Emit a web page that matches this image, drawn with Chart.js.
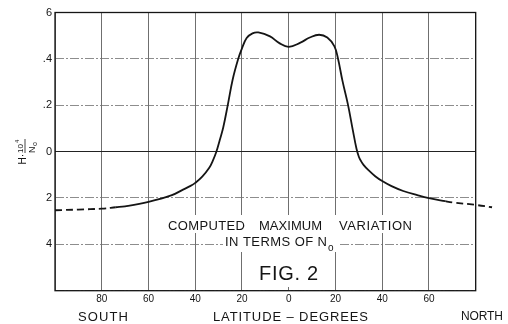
<!DOCTYPE html>
<html>
<head>
<meta charset="utf-8">
<script src="https://cdn.jsdelivr.net/npm/chart.js@4/dist/chart.umd.min.js"></script>
<style>
  html, body { margin: 0; padding: 0; background: #fff; }
  #wrap { width: 508px; height: 324px; }
</style>
</head>
<body>
<div id="wrap"><canvas id="myChart" width="508" height="324"></canvas></div>
<script>
// latitude in degrees (south negative)
const latitude = [-100, -90, -80, -74, -70, -60, -50, -45, -42, -40, -37, -34, -32.5, -31, -29.5, -28, -26, -24, -21.6, -20, -18, -15.5, -13, -8, -4,
  0, 5, 9, 13, 16.5, 19.5, 21, 23, 25.3, 27.4, 29, 30, 31, 32, 34, 37, 40, 44, 49, 55, 60, 67, 70, 80, 87];
const variation = [-0.253, -0.25, -0.246, -0.24, -0.236, -0.217, -0.188, -0.163, -0.148, -0.135, -0.108, -0.07, -0.04, -0.002, 0.05, 0.105, 0.205, 0.31, 0.40, 0.445, 0.49, 0.51, 0.514, 0.497, 0.468,
  0.452, 0.47, 0.492, 0.504, 0.492, 0.455, 0.405, 0.305, 0.205, 0.094, 0.012, -0.022, -0.042, -0.057, -0.079, -0.106, -0.127, -0.149, -0.17, -0.188, -0.201, -0.214, -0.219, -0.23, -0.24];

// tick labels as lettered on the drawing
const xTickLabels = ['', '80', '60', '40', '20', '0', '20', '40', '60', ''];
const yTickLabels = ['', '4', '2', '0', '.2', '.4', '6'];

// solid part of the curve, dashed outside
const solidFrom = -74;
const solidTo = 67;

const ink = '#151515';
const font = "'Liberation Sans', Arial, sans-serif";

function fitText(ctx, str, x1, x2, y) {
  ctx.letterSpacing = '0px';
  const w = ctx.measureText(str).width;
  const n = str.length;
  if (n > 1) ctx.letterSpacing = ((x2 - x1 - w) / (n - 1)) + 'px';
  ctx.textAlign = 'left';
  ctx.fillText(str, x1, y);
  ctx.letterSpacing = '0px';
}

const annotations = {
  id: 'annotations',
  beforeDatasetsDraw(chart) {
    const ctx = chart.ctx;
    const a = chart.chartArea;
    ctx.save();
    // white patches where the lettering interrupts the grid
    ctx.fillStyle = '#fff';
    ctx.fillRect(165, 215, 250, 18);
    ctx.fillRect(223, 233, 115, 19);
    ctx.fillRect(248, 252, 84, 35);

    // frame
    ctx.strokeStyle = ink;
    ctx.lineWidth = 1.3;
    ctx.strokeRect(a.left, a.top, a.right - a.left, a.bottom - a.top);

    ctx.fillStyle = ink;
    ctx.textBaseline = 'alphabetic';
    ctx.font = '13px ' + font;
    fitText(ctx, 'COMPUTED', 168, 245, 230);
    fitText(ctx, 'MAXIMUM', 259, 322, 230);
    fitText(ctx, 'VARIATION', 339, 412, 230);
    fitText(ctx, 'IN TERMS OF N', 225, 327, 245.5);
    ctx.font = '10px ' + font;
    ctx.fillText('o', 328, 250.5);
    ctx.font = '20px ' + font;
    fitText(ctx, 'FIG. 2', 259, 318, 280);

    ctx.font = '13px ' + font;
    fitText(ctx, 'SOUTH', 78, 128, 321);
    fitText(ctx, 'LATITUDE \u2013 DEGREES', 213, 368, 320.5);
    ctx.font = '12px ' + font;
    fitText(ctx, 'NORTH', 461, 503, 319.5);

    // rotated axis label  H·10^4 / N_o
    ctx.translate(27, 150);
    ctx.rotate(-Math.PI / 2);
    ctx.textAlign = 'right';
    ctx.font = '10px ' + font;
    ctx.fillText('H\u00b7', -4, -1);
    ctx.textAlign = 'left';
    ctx.font = '8px ' + font;
    ctx.fillText('10', -3, -4);
    ctx.font = '6px ' + font;
    ctx.fillText('4', 7, -8);
    ctx.beginPath();
    ctx.moveTo(-3, -2);
    ctx.lineTo(11, -2);
    ctx.lineWidth = 0.8;
    ctx.stroke();
    ctx.font = '9px ' + font;
    ctx.fillText('N', -3, 8);
    ctx.font = '7px ' + font;
    ctx.fillText('o', 4, 10);
    ctx.restore();
  }
};

const points = latitude.map((x, i) => ({ x: x, y: variation[i] }));

const config = {
  type: 'line',
  data: {
    datasets: [{
      data: points,
      borderColor: ink,
      borderWidth: 1.8,
      pointRadius: 0,
      tension: 0.4,
      clip: false,
      segment: {
        borderDash: c => (c.p0.parsed.x < solidFrom || c.p0.parsed.x >= solidTo) ? [7, 4] : undefined
      }
    }]
  },
  options: {
    responsive: false,
    animation: false,
    layout: { padding: { left: 0, right: 32.3, top: 12.5, bottom: 0 } },
    plugins: { legend: { display: false }, tooltip: { enabled: false } },
    scales: {
      x: {
        type: 'linear',
        afterDataLimits: s => { s.min = -100; s.max = 80; },
        afterFit: s => { s.height = 33.3; },
        ticks: {
          stepSize: 20,
          autoSkip: false,
          maxRotation: 0,
          padding: 3,
          color: ink,
          font: { family: font, size: 10 },
          callback: (v, i) => xTickLabels[i]
        },
        grid: { color: '#4a4a4a', lineWidth: 0.8, drawTicks: false },
        border: { display: false }
      },
      y: {
        min: -0.6,
        max: 0.6,
        afterFit: s => { s.width = 55; },
        ticks: {
          stepSize: 0.2,
          padding: 3,
          color: ink,
          font: { family: font, size: 11 },
          callback: (v, i) => yTickLabels[i]
        },
        grid: {
          color: c => Math.abs(c.tick.value) < 1e-6 ? '#222' : '#707070',
          lineWidth: c => Math.abs(c.tick.value) < 1e-6 ? 1.1 : 0.8,
          drawTicks: false
        },
        border: {
          display: false,
          dash: c => (c.tick && Math.abs(c.tick.value) < 1e-6) ? [] : [9, 2, 2, 2]
        }
      }
    }
  },
  plugins: [annotations]
};

const myChart = new Chart(document.getElementById('myChart'), config);
</script>
</body>
</html>
